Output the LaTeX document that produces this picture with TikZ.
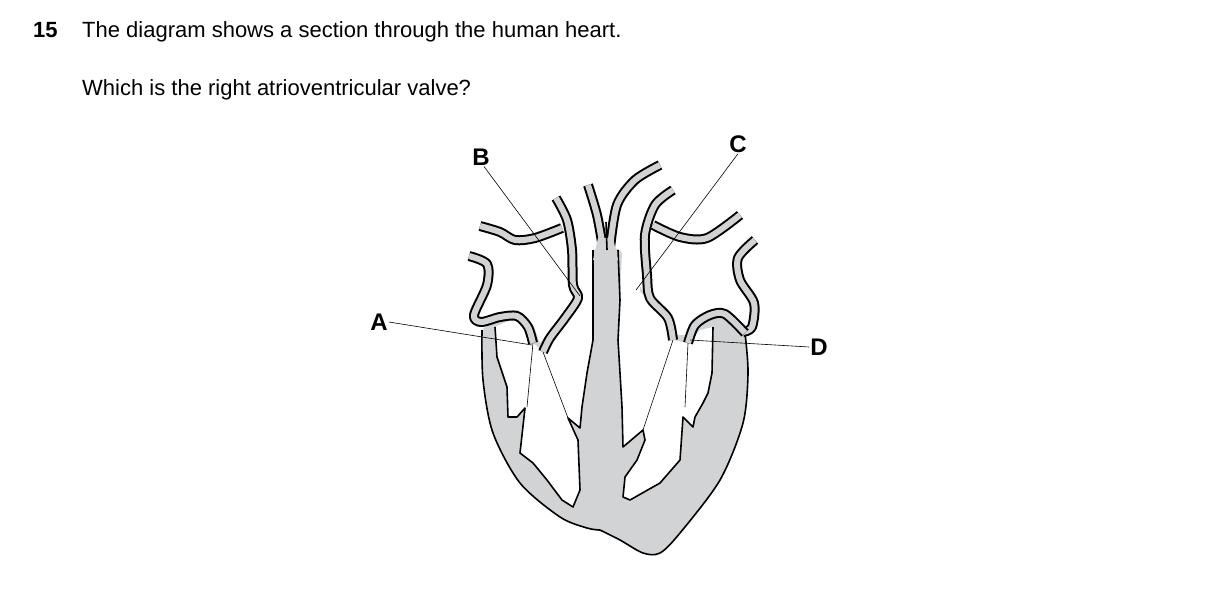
\documentclass[tikz,border=0pt]{standalone}
\usepackage{fontspec}
\setmainfont{Liberation Sans}
\definecolor{tissue}{RGB}{210,211,213}
\tikzset{
  wall/.style={line width=10pt, black, line cap=butt, line join=round},
  wallin/.style={line width=6pt, tissue, line cap=butt, line join=round},
  edge/.style={line width=1.6pt, black, line join=round},
  chord/.style={line width=0.6pt, black},
  lab/.style={font=\fontsize{24}{24}\selectfont\bfseries, inner sep=1pt},
}
\newcommand{\tube}[1]{\draw[wall] plot[smooth] coordinates {#1};\draw[wallin] plot[smooth] coordinates {#1};}
\begin{document}
\begin{tikzpicture}[x=1pt,y=-1pt]
		\useasboundingbox (0,0) rectangle (1209,606);
		\node[anchor=base west, font=\fontsize{22}{22}\selectfont\bfseries, inner sep=0] (num) at (33,37) {15};
		\node[anchor=base west, font=\fontsize{22}{22}\selectfont, inner sep=0] (q1) at (82,37) {The diagram shows a section through the human heart.};
		\node[anchor=base west, font=\fontsize{22}{22}\selectfont, inner sep=0] (q2) at (82,95) {Which is the right atrioventricular valve?};
		
		% body
		\fill[tissue] plot[smooth] coordinates {(482,330) (483,380) (493,433) (520,483) (560,517) (587,528) (600,530)}
		  -- plot[smooth] coordinates {(600,530) (620,540) (643,553) (660,553) (680,533) (720,480) (743,423) (748,373) (745,333)}
		  -- (725,312) -- (710,315) -- (690,335) -- (673,335) -- (645,295) -- (620,250) -- (607,245) -- (593,250)
		  -- (578,296) -- (560,318) -- (540,343) -- (533,325) -- (517,310) -- (495,318) -- cycle;
		\draw[edge] plot[smooth] coordinates {(482,330) (483,380) (493,433) (520,483) (560,517) (587,528) (600,530)};
		\draw[edge] plot[smooth] coordinates {(600,530) (620,540) (643,553) (660,553) (680,533) (720,480) (743,423) (748,373) (745,333)};
		
		% right heart chambers
		\fill[white] (495,327) -- (517,317) -- (530,327) -- (533,343) -- (543,352) -- (560,322) -- (580,300) -- (575,190) -- (595,190)
		  -- (593,303) -- (593,340) -- (587,373) -- (582,407) -- (580,428) -- (568,418) -- (578,440) -- (580,490) -- (573,507)
		  -- (562,500) -- (547,480) -- (533,463) -- (520,453) -- (525,408) -- (517,417) -- (508,417) -- (507,387) -- (497,357) -- cycle;
		\draw[edge] (593,250) -- (593,303) -- (593,340) -- (587,373) -- (582,407) -- (580,428) -- (568,418) -- (578,440) -- (580,490) -- (573,507)
		  -- (562,500) -- (547,480) -- (533,463) -- (520,453) -- (525,408) -- (517,417) -- (508,417) -- (507,387) -- (497,357) -- (495,327);
		
		% left heart chambers
		\fill[white] (620,300) -- (618,340) -- (620,373) -- (622,407) -- (623,447) -- (643,430) -- (645,440) -- (637,460) -- (625,477)
		  -- (623,497) -- (630,500) -- (660,483) -- (680,460) -- (683,417) -- (693,427) -- (695,417) -- (703,403) -- (708,393)
		  -- (712,373) -- (713,327) -- (700,330) -- (688,343) -- (673,340) -- (670,320) -- (650,300) -- (640,292) -- (645,180)
		  -- (625,180) -- cycle;
		\draw[edge] (618,250) -- (620,300) -- (618,340) -- (620,373) -- (622,407) -- (623,447) -- (643,430) -- (645,440) -- (637,460) -- (625,477)
		  -- (623,497) -- (630,500) -- (660,483) -- (680,460) -- (683,417) -- (693,427) -- (695,417) -- (703,403) -- (708,393)
		  -- (712,373) -- (713,327);
		
		% vessels
		\tube{(469,256) (487,264) (487,285) (474,315) (481,322) (500,317) (517,316) (528,327) (533,343)}
		\tube{(480,226) (500,232) (515,240) (535,238) (562,228)}
		\tube{(556,198) (567,220) (572,250) (573,285) (578,298) (565,318) (550,338) (543,352)}
		\tube{(588,185) (597,215) (603,248)}
		\tube{(660,165) (635,180) (617,205) (610,248)}
		\tube{(673,190) (655,205) (645,235) (647,275) (650,298) (668,318) (673,340)}
		\tube{(653,225) (680,237) (707,238) (740,215)}
		\tube{(755,240) (738,258) (740,280) (754,303) (752,327) (743,332)}
		\tube{(688,343) (695,325) (710,315) (725,314) (745,333)}
		\fill[tissue] (598,238) -- (613,238) -- (618,260) -- (593,260) -- cycle;
		\draw[edge] (606,222) -- (607,250);
		
		% chordae
		\draw[chord] (533,343) -- (527,407);
		\draw[chord] (543,352) -- (568,418);
		\draw[chord] (673,340) -- (643,430);
		\draw[chord] (688,343) -- (685,407);
		
		% labels
		\node[lab] (la) at (379,322) {A};
		\node[lab] (lb) at (481,157) {B};
		\node[lab] (lc) at (738,144) {C};
		\node[lab] (ld) at (819,347) {D};
		\coordinate (pa) at (532,345);
		\coordinate (pb) at (580,296);
		\coordinate (pc) at (636,290);
		\coordinate (pd) at (690,340);
		\draw[chord] (la.east) -- (pa);
		\draw[chord] (lb.south) ++(3,0) -- (pb);
		\draw[chord] (lc.south) -- (pc);
		\draw[chord] (ld.west) -- (pd);
\end{tikzpicture}
\end{document}
